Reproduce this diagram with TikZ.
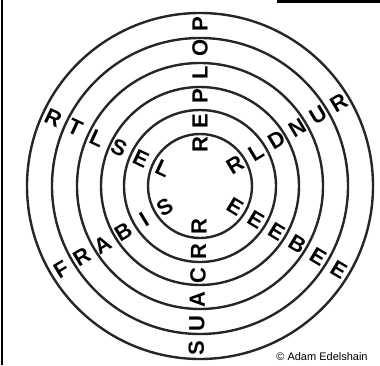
\documentclass[tikz,border=0pt]{standalone}
\usepackage{fontspec}
\setmainfont{Liberation Sans}
\usetikzlibrary{calc}
\begin{document}
\begin{tikzpicture}[x=1pt,y=1pt,
  ring/.style={draw=black!85, line width=2.4pt},
  letter/.style={font=\bfseries\fontsize{22}{22}\selectfont, inner sep=0pt, anchor=center},
  credit/.style={font=\fontsize{11}{11}\selectfont, inner sep=0pt, anchor=center}]
\useasboundingbox (0,0) rectangle (380,365);
\coordinate (c) at (200,179);
% frame remnants
\draw[line width=1.5pt] (2,0) -- (2,365);
\fill (277,365) rectangle (380,362.2);
% rings
\foreach \r in {52,76,99,123,148,173}
  \draw[ring] (c) circle[radius=\r];
% letters on six spokes
\foreach \ang/\rot/\word [count=\s] in {
   90/90/{R,E,P,L,O,P},
   31/31/{R,L,D,N,U,R},
  -31/-31/{E,E,E,B,E,E},
  -91.3/90/{R,R,C,A,U,S},
  211/31/{S,I,B,A,R,F},
  155/-25/{L,E,S,L,T,R}}{
  \foreach \ch [count=\i] in \word {
    \pgfmathsetmacro\rad{41+24.2*(\i-1)}
    \node[letter, rotate=\rot] (L\s-\i) at ($(c)+(\ang:\rad)$) {\ch};
  }
}
\node[credit] (copy) at (322,8) {© Adam Edelshain};
\end{tikzpicture}
\end{document}
